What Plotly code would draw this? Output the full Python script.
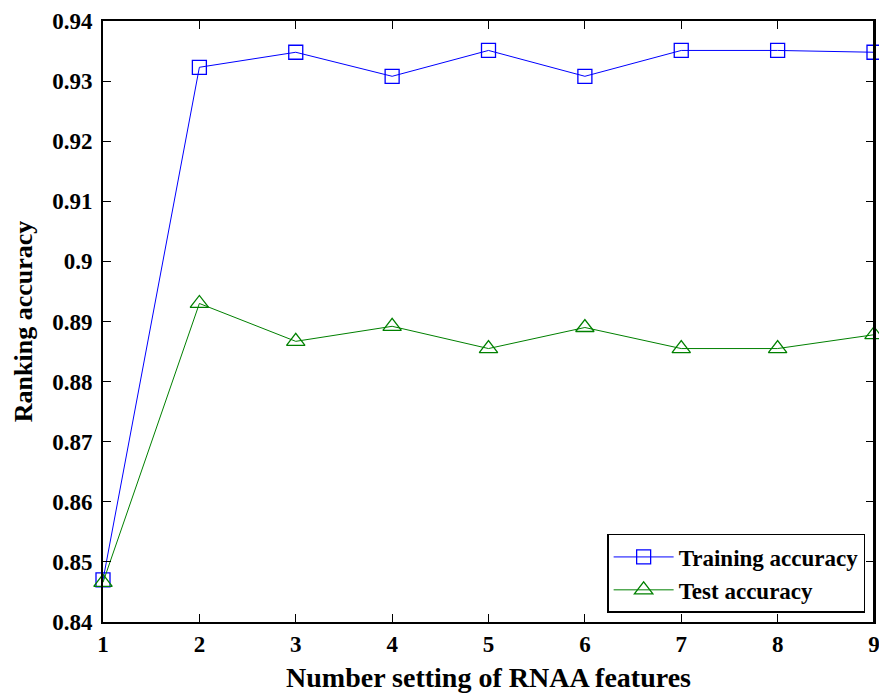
import plotly.graph_objects as go

x_vals = [1, 2, 3, 4, 5, 6, 7, 8, 9]
train_acc = [0.8470, 0.9323, 0.9348, 0.9308, 0.9351, 0.9308, 0.9351, 0.9351, 0.9348]
test_acc = [0.8466, 0.8930, 0.8867, 0.8892, 0.8855, 0.8890, 0.8855, 0.8855, 0.8878]
y_ticks = [0.84, 0.85, 0.86, 0.87, 0.88, 0.89, 0.9, 0.91, 0.92, 0.93, 0.94]
y_tick_text = ["0.84", "0.85", "0.86", "0.87", "0.88", "0.89", "0.9", "0.91", "0.92", "0.93", "0.94"]

font_family = "Liberation Serif"

fig = go.Figure()
fig.add_trace(go.Scatter(
    x=x_vals, y=train_acc, mode="lines+markers", name="Training accuracy",
    line=dict(color="#0000ff", width=1),
    marker=dict(symbol="square-open", size=14, color="#0000ff", line=dict(width=1.3)),
    cliponaxis=False,
))
fig.add_trace(go.Scatter(
    x=x_vals, y=test_acc, mode="lines+markers", name="Test accuracy",
    line=dict(color="#008000", width=1),
    marker=dict(symbol="triangle-up-open", size=16, color="#008000", line=dict(width=1.3)),
    cliponaxis=False,
))

fig.update_layout(
    width=879, height=695,
    paper_bgcolor="white", plot_bgcolor="white",
    margin=dict(l=103, r=5, t=21, b=73, autoexpand=False),
    font=dict(family=font_family, color="black", size=22),
    showlegend=True,
    legend=dict(
        x=0.9885, y=0.015, xanchor="right", yanchor="bottom",
        bordercolor="black", borderwidth=1.5, bgcolor="white",
        font=dict(family=font_family, size=23, color="black", weight="bold"),
        itemwidth=60, tracegroupgap=0,
    ),
    shapes=[dict(type="line", xref="paper", yref="paper", x0=1, x1=1, y0=0, y1=1,
                 line=dict(color="black", width=2), layer="above")],
)
fig.update_xaxes(
    range=[1, 9], tickvals=x_vals, ticktext=[str(v) for v in x_vals],
    automargin=False,
    showgrid=False, zeroline=False,
    showline=True, linecolor="black", linewidth=2, mirror="ticks",
    ticks="inside", ticklen=8, tickwidth=1, tickcolor="black",
    ticklabelstandoff=0, ticklabeloverflow="allow",
    tickfont=dict(family=font_family, size=23, color="black", weight="bold"),
    title=dict(text="Number setting of RNAA features", standoff=12,
               font=dict(family=font_family, size=28, color="black", weight="bold")),
)
fig.update_yaxes(
    range=[0.84, 0.94], tickvals=y_ticks, ticktext=y_tick_text,
    automargin=False,
    showgrid=False, zeroline=False,
    showline=True, linecolor="black", linewidth=2, mirror="ticks",
    ticks="inside", ticklen=8, tickwidth=1, tickcolor="black",
    ticklabelstandoff=4, ticklabeloverflow="allow",
    tickfont=dict(family=font_family, size=23, color="black", weight="bold"),
    title=dict(text="Ranking accuracy", standoff=12,
               font=dict(family=font_family, size=26, color="black", weight="bold")),
)

fig.write_html("out.html", config={"displayModeBar": False},
               post_script="document.body.style.margin='0';")
